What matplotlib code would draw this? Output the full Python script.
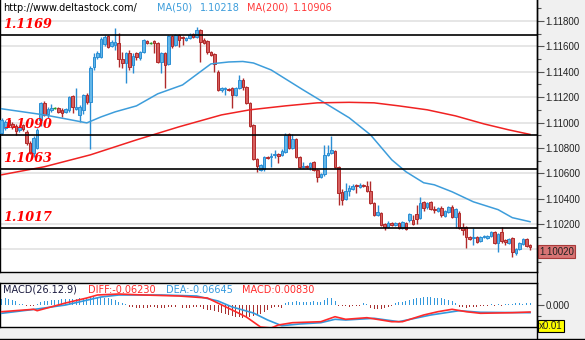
import numpy as np
import matplotlib.pyplot as plt
from matplotlib.lines import Line2D
from matplotlib.ticker import FuncFormatter, FixedLocator

# EUR/USD candles, oldest first
opens = [1.10917, 1.10957, 1.11020, 1.10988, 1.10972, 1.10941, 1.10980, 1.10925, 1.10838, 1.10760,
         1.10799, 1.11020, 1.11154, 1.11067, 1.11099, 1.11114, 1.11114, 1.11099, 1.11083, 1.11099,
         1.11209, 1.11106, 1.11059, 1.11099, 1.11217, 1.11162, 1.11437, 1.11516, 1.11516, 1.11619,
         1.11682, 1.11603, 1.11611, 1.11627, 1.11500, 1.11469, 1.11548, 1.11453, 1.11548, 1.11508,
         1.11556, 1.11642, 1.11627, 1.11642, 1.11627, 1.11477, 1.11548, 1.11461, 1.11682, 1.11611,
         1.11690, 1.11674, 1.11650, 1.11666, 1.11698, 1.11674, 1.11729, 1.11650, 1.11642, 1.11556,
         1.11540, 1.11398, 1.11256, 1.11264, 1.11264, 1.11272, 1.11217, 1.11272, 1.11335, 1.11280,
         1.11154, 1.10980, 1.10712, 1.10626, 1.10633, 1.10728, 1.10728, 1.10744, 1.10752, 1.10744,
         1.10767, 1.10909, 1.10799, 1.10870, 1.10728, 1.10649, 1.10657, 1.10649, 1.10689, 1.10626,
         1.10570, 1.10594, 1.10744, 1.10760, 1.10775, 1.10649, 1.10452, 1.10397, 1.10460, 1.10476,
         1.10507, 1.10491, 1.10507, 1.10499, 1.10460, 1.10366, 1.10271, 1.10287, 1.10200, 1.10176,
         1.10208, 1.10192, 1.10208, 1.10168, 1.10208, 1.10231, 1.10231, 1.10279, 1.10247, 1.10373,
         1.10334, 1.10373, 1.10318, 1.10302, 1.10326, 1.10263, 1.10295, 1.10334, 1.10255, 1.10287,
         1.10176, 1.10176, 1.10097, 1.10089, 1.10097, 1.10066, 1.10097, 1.10089, 1.10105, 1.10137,
         1.10050, 1.10137, 1.10074, 1.10050, 1.10089, 1.09971, 1.10003, 1.10042, 1.10081, 1.10034]
highs = [1.11035, 1.11020, 1.11028, 1.11004, 1.10988, 1.10980, 1.10988, 1.10941, 1.10854, 1.10894,
         1.10957, 1.11162, 1.11169, 1.11122, 1.11146, 1.11122, 1.11122, 1.11114, 1.11114, 1.11209,
         1.11217, 1.11272, 1.11138, 1.11225, 1.11232, 1.11445, 1.11548, 1.11564, 1.11674, 1.11690,
         1.11690, 1.11650, 1.11745, 1.11705, 1.11556, 1.11556, 1.11571, 1.11548, 1.11556, 1.11564,
         1.11658, 1.11650, 1.11634, 1.11650, 1.11634, 1.11556, 1.11556, 1.11690, 1.11690, 1.11698,
         1.11698, 1.11682, 1.11674, 1.11705, 1.11705, 1.11753, 1.11737, 1.11666, 1.11650, 1.11564,
         1.11548, 1.11414, 1.11280, 1.11280, 1.11272, 1.11280, 1.11280, 1.11374, 1.11351, 1.11288,
         1.11162, 1.10988, 1.10720, 1.10673, 1.10736, 1.10736, 1.10760, 1.10783, 1.10760, 1.10791,
         1.10917, 1.10917, 1.10909, 1.10878, 1.10736, 1.10689, 1.10665, 1.10689, 1.10697, 1.10633,
         1.10602, 1.10823, 1.10823, 1.10894, 1.10783, 1.10657, 1.10476, 1.10523, 1.10507, 1.10515,
         1.10515, 1.10523, 1.10515, 1.10539, 1.10539, 1.10373, 1.10350, 1.10295, 1.10208, 1.10224,
         1.10216, 1.10216, 1.10216, 1.10224, 1.10216, 1.10287, 1.10271, 1.10350, 1.10413, 1.10381,
         1.10373, 1.10381, 1.10342, 1.10334, 1.10342, 1.10310, 1.10342, 1.10350, 1.10326, 1.10302,
         1.10208, 1.10184, 1.10105, 1.10168, 1.10105, 1.10105, 1.10113, 1.10113, 1.10145, 1.10145,
         1.10129, 1.10176, 1.10081, 1.10089, 1.10097, 1.10011, 1.10058, 1.10089, 1.10089, 1.10042]
lows = [1.10901, 1.10941, 1.10965, 1.10949, 1.10901, 1.10925, 1.10933, 1.10823, 1.10752, 1.10728,
        1.10791, 1.10972, 1.11051, 1.11035, 1.11083, 1.11106, 1.11075, 1.11043, 1.11075, 1.11083,
        1.11075, 1.11099, 1.11004, 1.11067, 1.11146, 1.10791, 1.11414, 1.11500, 1.11508, 1.11603,
        1.11587, 1.11595, 1.11571, 1.11437, 1.11430, 1.11311, 1.11414, 1.11390, 1.11493, 1.11493,
        1.11548, 1.11619, 1.11619, 1.11548, 1.11469, 1.11390, 1.11272, 1.11453, 1.11587, 1.11603,
        1.11595, 1.11611, 1.11642, 1.11658, 1.11666, 1.11666, 1.11477, 1.11619, 1.11540, 1.11524,
        1.11398, 1.11248, 1.11240, 1.11217, 1.11248, 1.11114, 1.11209, 1.11264, 1.11256, 1.11146,
        1.10965, 1.10704, 1.10610, 1.10618, 1.10618, 1.10712, 1.10649, 1.10720, 1.10681, 1.10736,
        1.10760, 1.10791, 1.10791, 1.10720, 1.10641, 1.10641, 1.10641, 1.10626, 1.10618, 1.10531,
        1.10563, 1.10578, 1.10736, 1.10752, 1.10641, 1.10350, 1.10350, 1.10389, 1.10421, 1.10468,
        1.10444, 1.10484, 1.10491, 1.10452, 1.10358, 1.10263, 1.10263, 1.10184, 1.10153, 1.10168,
        1.10184, 1.10184, 1.10160, 1.10160, 1.10153, 1.10216, 1.10192, 1.10200, 1.10239, 1.10302,
        1.10318, 1.10310, 1.10287, 1.10295, 1.10255, 1.10255, 1.10287, 1.10247, 1.10168, 1.10160,
        1.10113, 1.10011, 1.10074, 1.10034, 1.10050, 1.10058, 1.10089, 1.10081, 1.10097, 1.10042,
        1.09979, 1.10050, 1.10034, 1.10042, 1.09940, 1.09956, 1.09995, 1.10034, 1.10018, 1.09995]
closes = [1.11020, 1.11004, 1.10980, 1.10965, 1.10933, 1.10965, 1.10949, 1.10838, 1.10760, 1.10878,
          1.10941, 1.11154, 1.11059, 1.11106, 1.11114, 1.11114, 1.11083, 1.11075, 1.11106, 1.11201,
          1.11122, 1.11122, 1.11122, 1.11217, 1.11162, 1.11430, 1.11516, 1.11548, 1.11658, 1.11674,
          1.11595, 1.11634, 1.11634, 1.11500, 1.11469, 1.11548, 1.11437, 1.11524, 1.11516, 1.11556,
          1.11650, 1.11627, 1.11627, 1.11627, 1.11477, 1.11548, 1.11453, 1.11682, 1.11603, 1.11690,
          1.11650, 1.11666, 1.11666, 1.11690, 1.11674, 1.11729, 1.11634, 1.11627, 1.11556, 1.11532,
          1.11461, 1.11256, 1.11272, 1.11272, 1.11256, 1.11217, 1.11272, 1.11335, 1.11280, 1.11154,
          1.10972, 1.10712, 1.10657, 1.10665, 1.10728, 1.10720, 1.10736, 1.10752, 1.10736, 1.10775,
          1.10901, 1.10799, 1.10870, 1.10728, 1.10649, 1.10657, 1.10649, 1.10681, 1.10626, 1.10570,
          1.10594, 1.10744, 1.10760, 1.10783, 1.10649, 1.10444, 1.10389, 1.10460, 1.10484, 1.10499,
          1.10499, 1.10507, 1.10499, 1.10460, 1.10366, 1.10271, 1.10295, 1.10192, 1.10176, 1.10208,
          1.10192, 1.10208, 1.10168, 1.10216, 1.10160, 1.10279, 1.10200, 1.10239, 1.10366, 1.10326,
          1.10366, 1.10318, 1.10310, 1.10326, 1.10271, 1.10302, 1.10334, 1.10255, 1.10318, 1.10168,
          1.10153, 1.10097, 1.10081, 1.10097, 1.10058, 1.10097, 1.10105, 1.10105, 1.10137, 1.10050,
          1.10121, 1.10066, 1.10058, 1.10081, 1.09979, 1.10003, 1.10050, 1.10081, 1.10026, 1.10020]

# moving averages, sampled at candle positions
ma50_at = [0, 12, 18, 24, 28, 32, 38, 44, 51, 59, 64, 68, 71, 76, 85, 92, 98, 104, 110, 114,
           119, 122, 127, 133, 140, 144, 149]
ma50 = [1.11108, 1.11060, 1.11029, 1.10997, 1.11044, 1.11084, 1.11131, 1.11226, 1.11296, 1.11462,
        1.11477, 1.11481, 1.11469, 1.11414, 1.11257, 1.11139, 1.11037, 1.10903, 1.10706, 1.10612,
        1.10525, 1.10509, 1.10454, 1.10375, 1.10313, 1.10250, 1.10218]
ma200_at = [0, 12, 25, 38, 50, 62, 70, 80, 89, 98, 105, 112, 120, 128, 136, 143, 149]
ma200 = [1.10588, 1.10651, 1.10745, 1.10863, 1.10966, 1.11060, 1.11100, 1.11131, 1.11155, 1.11159,
         1.11155, 1.11131, 1.11100, 1.11052, 1.10989, 1.10942, 1.10906]

levels = [1.1169, 1.1090, 1.1063, 1.1017]
last_price = 1.10020

# MACD histogram (one bar per candle) and the two signal lines
macd_hist = [0.006, 0.007, 0.006, 0.005, 0.004,
             0.001, 0.001, -0.001, -0.001, -0.001, 0.001,
             0.003, 0.004, 0.004, 0.005, 0.005, 0.005, 0.006, 0.006, 0.006, 0.006, 0.006, 0.007,
             0.007, 0.007, 0.008, 0.008, 0.008, 0.008, 0.007, 0.007, 0.006, 0.005, 0.003, 0.002,
             0.001,
             -0.002, -0.002, -0.003, -0.003, -0.003, -0.003, -0.002, -0.002, -0.003, -0.003, -0.003,
             -0.002, -0.002, -0.002, -0.003, -0.003, -0.003, -0.003, -0.002, -0.002, -0.002,
             -0.004, -0.005, -0.005, -0.006, -0.007, -0.008, -0.009, -0.010, -0.011,
             -0.012, -0.012, -0.013, -0.013, -0.012, -0.011, -0.010, -0.009, -0.007, -0.005, -0.003,
             -0.002, -0.002, -0.003,
             0.002, 0.003, 0.003, 0.004, 0.003, 0.003, 0.003, 0.003, 0.004, 0.003, 0.003,
             0.005, 0.007, 0.007, 0.004,
             -0.001, -0.001, -0.001, -0.002, -0.001, -0.001, -0.001,
             0.002, 0.001,
             -0.003, -0.004, -0.004, -0.004, -0.003, -0.002, -0.001,
             0.002, 0.003, 0.003, 0.004, 0.005, 0.006, 0.007, 0.007, 0.008, 0.008,
             0.008, 0.007, 0.007, 0.007, 0.006, 0.005, 0.004,
             0.002,
             -0.002, -0.002, -0.003, -0.002, -0.002, -0.002, -0.001, -0.001, -0.001, 0.001, -0.001,
             0.001, -0.001, 0.001, 0.001,
             0.001, 0.002, 0.002, 0.001, 0.002, 0.002]
diff_at = [0, 9, 10, 18, 24, 27, 33, 40, 50, 58, 65, 69, 73, 76, 78, 82, 90, 94, 97, 103,
           110, 113, 119, 123, 127, 131, 135, 144, 149]
diff_line = [-0.0067, -0.0043, -0.0057, 0.002, 0.007, 0.010, 0.011, 0.010, 0.009, 0.007,
             -0.005, -0.012, -0.022, -0.023, -0.020, -0.0177, -0.0167, -0.0117, -0.0143, -0.0127,
             -0.0167, -0.0167, -0.010, -0.0067, -0.0043, -0.0067, -0.0083, -0.0077, -0.007]
dea_at = [0, 10, 18, 28, 33, 45, 55, 61, 65, 71, 75, 79, 84, 90, 94, 97, 105, 112, 121, 129,
          135, 149]
dea_line = [-0.0083, -0.004, 0.0, 0.008, 0.010, 0.010, 0.009, 0.004, -0.002, -0.008,
            -0.015, -0.0207, -0.019, -0.0177, -0.0143, -0.015, -0.0133, -0.0167, -0.010, -0.0057,
            -0.0073, -0.0077]

W, H = 585, 340
UP_FACE, UP_EDGE = '#63b6e8', '#2a8ed4'
DN_FACE, DN_EDGE = '#d65f5f', '#b02a2a'
MA50_COLOR = '#3d9ddb'
MA200_COLOR = '#f02222'
TICK_FONT = dict(family='Liberation Sans', size=7)


def box(x0, y0, x1, y1):
    # axes rectangle given in pixels from the top-left corner
    return [x0 / W, 1 - y1 / H, (x1 - x0) / W, (y1 - y0) / H]


def put(x, y, s, **kw):
    return fig.text(x / W, 1 - y / H, s, va='center', ha='left', **kw)


def price_label(v, pos):
    # the 1.10000 row sits under the last-price tag
    return '' if abs(v - last_price) < 0.0005 else f'{v:.5f}'


fig = plt.figure(figsize=(W / 100, H / 100), dpi=100)
fig.patch.set_facecolor('#f0f0f0')

ax = fig.add_axes(box(0, 0, 537, 272))
mx = fig.add_axes(box(0, 283, 537, 327))

o, h, l, c = (np.array(a) for a in (opens, highs, lows, closes))
x = np.arange(len(o))
xlim = (-0.48, len(o) + 0.96)

# candles
for mask, face, edge in ((c > o, UP_FACE, UP_EDGE), (c < o, DN_FACE, DN_EDGE)):
    ax.vlines(x[mask], l[mask], h[mask], color=edge, lw=1, zorder=3)
    ax.bar(x[mask], np.abs(c - o)[mask], bottom=np.minimum(o, c)[mask], width=0.72,
           color=face, edgecolor=edge, lw=0.7, zorder=4)
flat = c == o
ax.vlines(x[flat], l[flat], h[flat], color='#2a9a2a', lw=1, zorder=3)
ax.hlines(c[flat], x[flat] - 0.4, x[flat] + 0.4, color='#2a9a2a', lw=1, zorder=4)

ax.plot(ma50_at, ma50, color=MA50_COLOR, lw=1.1, zorder=5)
ax.plot(ma200_at, ma200, color=MA200_COLOR, lw=1.1, zorder=5)

for lv in levels:
    ax.axhline(lv, color='black', lw=1.2, zorder=6)
    ax.annotate(f'{lv:.4f}', xy=(0, lv), xycoords=('axes fraction', 'data'),
                xytext=(3, 4), textcoords='offset pixels', ha='left', va='bottom',
                color='#ff0000', family='DejaVu Serif', weight='bold', style='italic',
                size=9.2, zorder=7)

ax.set_xlim(*xlim)
ax.set_ylim(1.098217, 1.119655)
ax.yaxis.tick_right()
ax.yaxis.set_major_locator(FixedLocator(np.arange(1.100, 1.1185, 0.002)))
ax.yaxis.set_minor_locator(FixedLocator(np.arange(1.099, 1.1195, 0.001)))
ax.yaxis.set_major_formatter(FuncFormatter(price_label))
ax.tick_params(axis='y', which='major', direction='out', length=5, width=0.8,
               color='#555555', pad=1, labelcolor='#222222')
ax.tick_params(axis='y', which='minor', direction='out', length=3, width=0.8, color='#555555')
for t in ax.get_yticklabels():
    t.set(**TICK_FONT)
ax.set_xticks([])
ax.grid(axis='y', which='major', color='#e4e4e4', lw=1.3, zorder=0)
ax.set_axisbelow(True)
ax.spines['top'].set_visible(False)
for side in ('left', 'right', 'bottom'):
    ax.spines[side].set_color('black')
    ax.spines[side].set_linewidth(1)

# last price tag on the scale
ax.annotate(f'{last_price:.5f}', xy=(1, last_price), xycoords=('axes fraction', 'data'),
            xytext=(2, -5), textcoords='offset pixels', ha='left', va='center',
            color='#202020', annotation_clip=False, **TICK_FONT,
            bbox=dict(boxstyle='square,pad=0.15', fc='#d87474', ec='#a83a3a', lw=0.8))

put(3, 8, 'http://www.deltastock.com/', color='black', family='DejaVu Sans', size=7)
put(157, 8, 'MA(50)', color=MA50_COLOR, family='DejaVu Sans', size=7)
put(200, 8, '1.10218', color=MA50_COLOR, family='DejaVu Sans', size=7)
put(247, 8, 'MA(200)', color='#ff3a3a', family='DejaVu Sans', size=7)
put(293, 8, '1.10906', color='#ff3a3a', family='DejaVu Sans', size=7)

# MACD panel
hist = np.array(macd_hist)
mx.bar(x, hist, width=0.28, color=np.where(hist >= 0, '#3399dd', '#a83030'), zorder=2)
mx.plot(dea_at, dea_line, color='#3399dd', lw=1.2, zorder=3)
mx.plot(diff_at, diff_line, color='#ff2a2a', lw=1.2, zorder=4)
mx.set_xlim(*xlim)
mx.set_ylim(-0.022, 0.022)
mx.set_xticks([])
mx.yaxis.tick_right()
mx.set_yticks([0.0])
mx.set_yticklabels(['0.000'])
mx.set_yticks([-0.011, 0.011], minor=True)
mx.tick_params(axis='y', which='major', direction='out', length=5, width=0.8,
               color='#555555', pad=1, labelcolor='#222222')
mx.tick_params(axis='y', which='minor', direction='out', length=3, width=0.8, color='#555555')
for t in mx.get_yticklabels():
    t.set(**TICK_FONT)
for s in mx.spines.values():
    s.set_color('black')
    s.set_linewidth(1)

put(3, 290, 'MACD(26.12.9)', color='#1c1c40', family='DejaVu Sans', size=7)
put(88, 290, 'DIFF:-0.06230', color='#ff2a2a', family='DejaVu Sans', size=7)
put(166, 290, 'DEA:-0.06645', color='#3399dd', family='DejaVu Sans', size=7)
put(242, 290, 'MACD:0.00830', color='#ff2a2a', family='DejaVu Sans', size=7)
put(539, 326, 'x0.01', color='#202020', **TICK_FONT,
    bbox=dict(boxstyle='square,pad=0.12', fc='#ffff00', ec='black', lw=0.8))

# frame lines around the scale strip and bottom edge
fig.add_artist(Line2D([537 / W, 537 / W], [0, 1], color='black', lw=1))
fig.add_artist(Line2D([0, 1], [1 - 339 / H, 1 - 339 / H], color='black', lw=1))

fig.savefig('out.png', dpi=100, facecolor=fig.get_facecolor())
